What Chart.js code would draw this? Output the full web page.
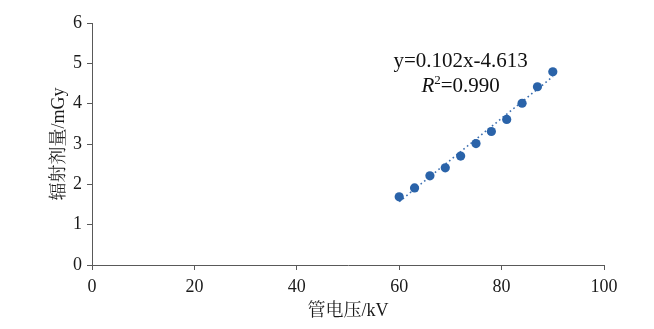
<!DOCTYPE html>
<html>
<head>
<meta charset="utf-8">
<script src="https://cdn.jsdelivr.net/npm/chart.js@4"></script>
<style>
  body { margin: 0; background: #fff; }
</style>
</head>
<body>
<canvas id="doseChart" width="654" height="329"></canvas>
<script>
// tube voltage (kV) and radiation dose (mGy)
var voltage = [60, 63, 66, 69, 72, 75, 78, 81, 84, 87, 90];
var dose = [1.69, 1.91, 2.21, 2.41, 2.70, 3.01, 3.31, 3.61, 4.01, 4.42, 4.79];

// ends of the dotted trend line as drawn
var trendX = [60, 90];
var trendY = [1.57, 4.67];

var xTicks = [0, 20, 40, 60, 80, 100];
var yTicks = [0, 1, 2, 3, 4, 5, 6];

var eqLine1 = 'y=0.102x-4.613';
var eqR2 = '0.990';

var serif = "'Liberation Serif', 'Times New Roman', 'Noto Serif CJK SC', 'Noto Sans CJK SC', serif";
var axisColor = '#595959';
var pointColor = '#2a63a9';

var equationPlugin = {
    id: 'equation',
    afterDatasetsDraw: function (chart) {
        var ctx = chart.ctx;
        var x = chart.scales.x.getPixelForValue(72);
        var y1 = chart.scales.y.getPixelForValue(5.04);
        var y2 = chart.scales.y.getPixelForValue(4.42);
        ctx.save();
        ctx.fillStyle = '#111';
        ctx.textBaseline = 'middle';
        ctx.textAlign = 'center';
        ctx.font = '21px ' + serif;
        ctx.fillText(eqLine1, x, y1);

        // R^2 line, italic R with a raised 2
        var partR = 'R', partSup = '2', partRest = '=' + eqR2;
        ctx.font = 'italic 21px ' + serif;
        var wR = ctx.measureText(partR).width;
        ctx.font = '13px ' + serif;
        var wSup = ctx.measureText(partSup).width;
        ctx.font = '21px ' + serif;
        var wRest = ctx.measureText(partRest).width;
        var start = x - (wR + wSup + wRest) / 2;
        ctx.textAlign = 'left';
        ctx.font = 'italic 21px ' + serif;
        ctx.fillText(partR, start, y2);
        ctx.font = '13px ' + serif;
        ctx.fillText(partSup, start + wR, y2 - 6);
        ctx.font = '21px ' + serif;
        ctx.fillText(partRest, start + wR + wSup, y2);
        ctx.restore();
    }
};

var ctx = document.getElementById('doseChart').getContext('2d');
new Chart(ctx, {
    type: 'scatter',
    data: {
        datasets: [
            {
                label: 'dose',
                data: voltage.map(function (v, i) { return { x: v, y: dose[i] }; }),
                backgroundColor: pointColor,
                borderWidth: 0,
                pointRadius: 4.6,
                order: 1
            },
            {
                label: 'trend',
                type: 'line',
                data: trendX.map(function (v, i) { return { x: v, y: trendY[i] }; }),
                borderColor: '#3d6fb0',
                borderWidth: 1.6,
                borderDash: [1.6, 3],
                pointRadius: 0,
                fill: false,
                order: 2
            }
        ]
    },
    options: {
        responsive: false,
        animation: false,
        layout: { padding: { top: 23, right: 50, bottom: 0, left: 0 } },
        plugins: {
            legend: { display: false },
            tooltip: { enabled: false }
        },
        scales: {
            x: {
                type: 'linear',
                min: 0,
                max: 100,
                afterBuildTicks: function (scale) {
                    scale.ticks = xTicks.map(function (v) { return { value: v }; });
                },
                afterFit: function (scale) { scale.height = 64; },
                border: { color: axisColor, width: 1 },
                grid: { drawOnChartArea: false, color: axisColor, tickLength: 5 },
                ticks: { color: '#1a1a1a', padding: 6, maxRotation: 0, font: { family: serif, size: 18 } },
                title: {
                    display: true,
                    text: '管电压/kV',
                    color: '#1a1a1a',
                    padding: { top: 0, bottom: 7 },
                    font: { family: serif, size: 18 }
                }
            },
            y: {
                type: 'linear',
                min: 0,
                max: 6,
                afterBuildTicks: function (scale) {
                    scale.ticks = yTicks.map(function (v) { return { value: v }; });
                },
                afterFit: function (scale) { scale.width = 92; },
                border: { color: axisColor, width: 1 },
                grid: { drawOnChartArea: false, color: axisColor, tickLength: 5 },
                ticks: { color: '#1a1a1a', padding: 5, font: { family: serif, size: 18 } },
                title: {
                    display: true,
                    text: '辐射剂量/mGy',
                    color: '#1a1a1a',
                    padding: { top: 48, bottom: 0 },
                    font: { family: serif, size: 18 }
                }
            }
        }
    },
    plugins: [equationPlugin]
});
</script>
</body>
</html>
